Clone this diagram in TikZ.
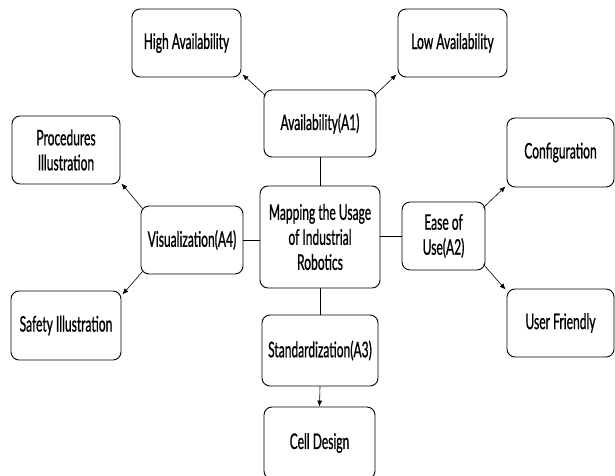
\documentclass[tikz,border=0pt]{standalone}
\usepackage{fontspec}
\setmainfont[FakeStretch=0.56, FakeBold=0.8]{Lato}
\usetikzlibrary{arrows.meta}
\begin{document}
\begin{tikzpicture}[x=1pt,y=-1pt,
  box/.style={draw, line width=0.9pt, rounded corners=8pt, align=center,
    font=\fontsize{21.5}{25}\selectfont, inner sep=0pt},
  link/.style={line width=0.7pt},
  branch/.style={line width=0.6pt, -{Latex[length=6pt,width=5pt]}}]
\useasboundingbox (0,0) rectangle (615,475);
\clip (0,0) rectangle (615,475);
% central topic and its four aspects
\node[box, minimum width=120pt, minimum height=102pt] (core) at (320,237)
  {Mapping the Usage\\of Industrial\\Robotics};
\node[box, minimum width=112pt, minimum height=67pt] (avail) at (320,123.5) {Availability(A1)};
\node[box, minimum width=83pt, minimum height=68pt] (ease) at (443.5,236) {Ease of\\Use(A2)};
\node[box, minimum width=116pt, minimum height=71pt] (std) at (320,350.5) {Standardization(A3)};
\node[box, minimum width=102pt, minimum height=68pt] (vis) at (192,240) {Visualization(A4)};
% leaves
\node[box, minimum width=109pt, minimum height=68pt] (high) at (186.5,43) {High Availability};
\node[box, minimum width=109pt, minimum height=68pt] (low) at (452.5,43) {Low Availability};
\node[box, minimum width=108pt, minimum height=68pt] (proc) at (66,150) {Procedures\\Illustration};
\node[box, minimum width=110pt, minimum height=69pt] (safe) at (66,325.5) {Safety Illustration};
\node[box, minimum width=107pt, minimum height=69pt] (conf) at (560.5,152.5) {Configuration};
\node[box, minimum width=107pt, minimum height=68pt] (user) at (560.5,323) {User Friendly};
\node[box, minimum width=111pt, minimum height=72pt] (cell) at (319.5,443) {Cell Design};
% links from the core
\draw[link] (core.north) -- (avail.south);
\draw[link] (core.south) -- (std.north);
\draw[link] (core.west |- vis.east) -- (vis.east);
\draw[link] (core.east |- ease.west) -- (ease.west);
% branches to the leaves
\draw[branch] ([xshift=2pt,yshift=-6pt]avail.north west) -- ([xshift=1pt,yshift=3pt]high.south east);
\draw[branch] ([xshift=-2pt,yshift=-6pt]avail.north east) -- ([xshift=-1pt,yshift=3pt]low.south west);
\draw[branch] ([xshift=2pt,yshift=-3pt]vis.north west) -- ([xshift=1pt,yshift=1pt]proc.south east);
\draw[branch] ([xshift=2pt,yshift=3pt]vis.south west) -- ([xshift=1pt,yshift=-4pt]safe.north east);
\draw[branch] ([xshift=-2pt,yshift=-6pt]ease.north east) -- ([xshift=-1pt,yshift=1pt]conf.south west);
\draw[branch] ([xshift=-2pt,yshift=6pt]ease.south east) -- ([xshift=-1pt,yshift=-1pt]user.north west);
\draw[branch] (std.south) -- (cell.north);
\end{tikzpicture}
\end{document}
